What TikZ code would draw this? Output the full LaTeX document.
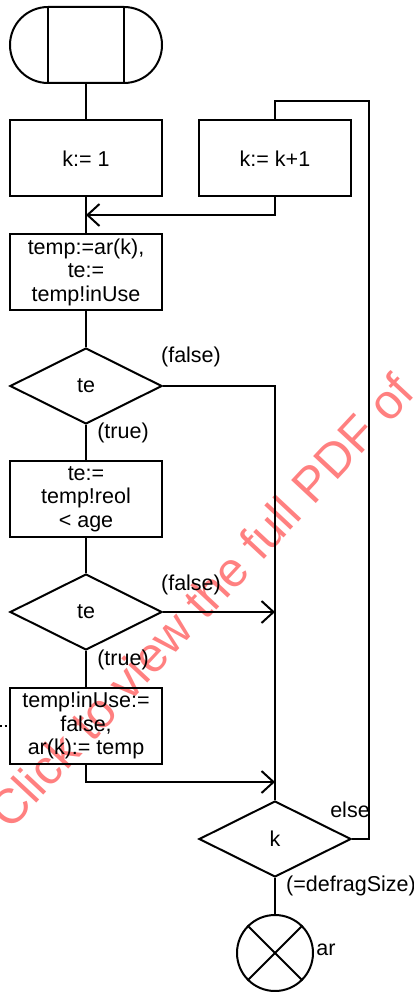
\documentclass[tikz,border=0pt]{standalone}
\usepackage{fontspec}
\setmainfont{Liberation Sans}
\usetikzlibrary{shapes.geometric,shapes.misc,arrows.meta}
\definecolor{wmred}{RGB}{255,128,128}
\begin{document}
\begin{tikzpicture}[x=1pt,y=-1pt,
  every node/.style={font=\fontsize{21.5}{23.5}\selectfont},
  line/.style={draw,line width=2pt},
  procbox/.style={line, rectangle, minimum width=152pt, minimum height=76pt, inner sep=0pt, align=center},
  decision/.style={line, diamond, aspect=2, minimum width=152pt, minimum height=76pt, inner sep=0pt},
  flow/.style={line width=2pt},
  arr/.style={flow, -{Straight Barb[length=12pt,width=22pt,line width=2pt]}},
  lbl/.style={inner sep=0pt}
]
\useasboundingbox (0,0) rectangle (414,992);

% watermark (behind the drawing)
\node[inner sep=0pt, rotate=47, text=wmred, font=\fontsize{49}{49}\selectfont] (wm) at (201,601) {Click to view the full PDF of};

% start terminator
\node[line, rounded rectangle, minimum width=152pt, minimum height=76pt, inner sep=0pt] (start) at (86,45) {};
\draw[flow] ([xshift=-38pt]start.north) -- ([xshift=-38pt]start.south);
\draw[flow] ([xshift=38pt]start.north) -- ([xshift=38pt]start.south);

\node[procbox] (k1) at (86,158.5) {k:= 1};
\node[procbox] (kinc) at (275,158.5) {k:= k+1};
\node[procbox] (tmp) at (86,272) {temp:=ar(k),\\te:=\\temp!inUse};
\node[decision] (d1) at (86,386) {te};
\node[procbox] (teage) at (86,499) {te:=\\temp!reol\\< age};
\node[decision] (d2) at (86,612) {te};
\node[procbox] (inuse) at (86,725.5) {temp!inUse:=\\false,\\ar(k):= temp};
\node[decision] (dk) at (275,839) {k};
\node[line, circle, minimum size=76pt, inner sep=0pt] (stop) at (275,953) {};
\draw[flow] (stop.north west) -- (stop.south east);
\draw[flow] (stop.north east) -- (stop.south west);

% coordinates
\coordinate (j1) at (86,215);
\coordinate (a2) at (275,612);
\coordinate (a3) at (275,782);
\coordinate (r1) at (369,101);
\coordinate (lf) at (0,725.5);

% connectors
\draw[flow] (start.south) -- (k1.north);
\draw[flow] (k1.south) -- (tmp.north);
\draw[arr] (kinc.south) |- (j1);
\draw[flow] (tmp.south) -- (d1.north);
\draw[flow] (d1.east) -| (dk.north);
\draw[flow] (d1.south) -- (teage.north);
\draw[flow] (teage.south) -- (d2.north);
\draw[arr] (d2.east) -- (a2);
\draw[flow] (d2.south) -- (inuse.north);
\draw[arr] (inuse.south) |- (a3);
\draw[flow] (dk.east) -| (r1) -| (kinc.north);
\draw[flow] (dk.south) -- (stop.north);
\draw[line width=2pt, dash pattern=on 2pt off 2.5pt] (lf) -- (inuse.west);

% labels
\node[lbl] (f1) at (191,357) {(false)};
\node[lbl] (t1) at (123,433) {(true)};
\node[lbl] (f2) at (191,585) {(false)};
\node[lbl] (t2) at (123,660) {(true)};
\node[lbl] (el) at (350,810) {else};
\node[lbl] (df) at (351,886) {(=defragSize)};
\node[lbl] (ar) at (326,950) {ar};
\end{tikzpicture}
\end{document}
